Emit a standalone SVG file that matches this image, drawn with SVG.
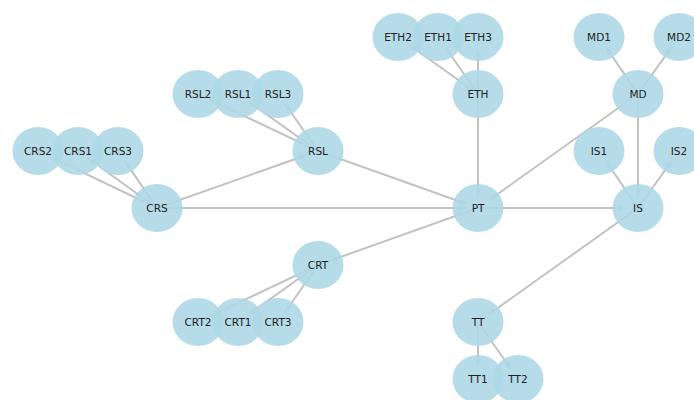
<svg xmlns="http://www.w3.org/2000/svg" width="694" height="400" viewBox="0 0 694 400">
<style>
.e{stroke:#c2c2c2;stroke-width:2;fill:none;marker-end:url(#ah)}
.n ellipse{fill:#add8e6;fill-opacity:0.9}
.n text{font-family:"DejaVu Sans",sans-serif;font-size:10.5px;fill:#222;text-anchor:middle;dominant-baseline:central}
</style>
<defs>
<marker id="ah" markerUnits="userSpaceOnUse" markerWidth="9" markerHeight="7" refX="8" refY="3" orient="auto">
<path d="M0,0 L8,3 L0,6 z" fill="#c2c2c2"/>
</marker>
</defs>
<rect width="694" height="400" fill="#ffffff"/>
<g id="connectors">
<line class="e" x1="478" y1="94" x2="407.8" y2="44"/>
<line class="e" x1="478" y1="94" x2="444.9" y2="46.8"/>
<line class="e" x1="478" y1="94" x2="478" y2="49"/>
<line class="e" x1="478" y1="94" x2="478" y2="196"/>
<line class="e" x1="638" y1="94" x2="605.8" y2="46.9"/>
<line class="e" x1="638" y1="94" x2="672" y2="46.7"/>
<line class="e" x1="638" y1="94" x2="638" y2="196"/>
<line class="e" x1="638" y1="94" x2="487.8" y2="201"/>
<line class="e" x1="478" y1="208" x2="626" y2="208"/>
<line class="e" x1="638" y1="208" x2="605.8" y2="160.9"/>
<line class="e" x1="638" y1="208" x2="672" y2="160.7"/>
<line class="e" x1="638" y1="208" x2="487.8" y2="315"/>
<line class="e" x1="478" y1="322" x2="478" y2="367"/>
<line class="e" x1="478" y1="322" x2="511.1" y2="369.2"/>
<line class="e" x1="318" y1="151" x2="208.8" y2="99.2"/>
<line class="e" x1="318" y1="151" x2="247.8" y2="101"/>
<line class="e" x1="318" y1="151" x2="284.9" y2="103.8"/>
<line class="e" x1="318" y1="151" x2="466.7" y2="204"/>
<line class="e" x1="157" y1="208" x2="306.7" y2="155"/>
<line class="e" x1="157" y1="208" x2="48.8" y2="156.2"/>
<line class="e" x1="157" y1="208" x2="87.7" y2="158"/>
<line class="e" x1="157" y1="208" x2="124.8" y2="160.9"/>
<line class="e" x1="157" y1="208" x2="466" y2="208"/>
<line class="e" x1="478" y1="208" x2="329.3" y2="261"/>
<line class="e" x1="318" y1="265" x2="208.8" y2="316.8"/>
<line class="e" x1="318" y1="265" x2="247.8" y2="315"/>
<line class="e" x1="318" y1="265" x2="284.9" y2="312.2"/>
</g>
<g id="ETH2" class="n"><ellipse cx="398" cy="37" rx="25.5" ry="24"/><text x="398" y="37">ETH2</text></g>
<g id="ETH1" class="n"><ellipse cx="438" cy="37" rx="25.5" ry="24"/><text x="438" y="37">ETH1</text></g>
<g id="ETH3" class="n"><ellipse cx="478" cy="37" rx="25.5" ry="24"/><text x="478" y="37">ETH3</text></g>
<g id="ETH" class="n"><ellipse cx="478" cy="94" rx="25.5" ry="24"/><text x="478" y="94">ETH</text></g>
<g id="MD1" class="n"><ellipse cx="599" cy="37" rx="25.5" ry="24"/><text x="599" y="37">MD1</text></g>
<g id="MD2" class="n"><ellipse cx="679" cy="37" rx="25.5" ry="24"/><text x="679" y="37">MD2</text></g>
<g id="MD" class="n"><ellipse cx="638" cy="94" rx="25.5" ry="24"/><text x="638" y="94">MD</text></g>
<g id="IS1" class="n"><ellipse cx="599" cy="151" rx="25.5" ry="24"/><text x="599" y="151">IS1</text></g>
<g id="IS2" class="n"><ellipse cx="679" cy="151" rx="25.5" ry="24"/><text x="679" y="151">IS2</text></g>
<g id="IS" class="n"><ellipse cx="638" cy="208" rx="25.5" ry="24"/><text x="638" y="208">IS</text></g>
<g id="RSL2" class="n"><ellipse cx="198" cy="94" rx="25.5" ry="24"/><text x="198" y="94">RSL2</text></g>
<g id="RSL1" class="n"><ellipse cx="238" cy="94" rx="25.5" ry="24"/><text x="238" y="94">RSL1</text></g>
<g id="RSL3" class="n"><ellipse cx="278" cy="94" rx="25.5" ry="24"/><text x="278" y="94">RSL3</text></g>
<g id="RSL" class="n"><ellipse cx="318" cy="151" rx="25.5" ry="24"/><text x="318" y="151">RSL</text></g>
<g id="CRS2" class="n"><ellipse cx="38" cy="151" rx="25.5" ry="24"/><text x="38" y="151">CRS2</text></g>
<g id="CRS1" class="n"><ellipse cx="78" cy="151" rx="25.5" ry="24"/><text x="78" y="151">CRS1</text></g>
<g id="CRS3" class="n"><ellipse cx="118" cy="151" rx="25.5" ry="24"/><text x="118" y="151">CRS3</text></g>
<g id="CRS" class="n"><ellipse cx="157" cy="208" rx="25.5" ry="24"/><text x="157" y="208">CRS</text></g>
<g id="PT" class="n"><ellipse cx="478" cy="208" rx="25.5" ry="24"/><text x="478" y="208">PT</text></g>
<g id="CRT" class="n"><ellipse cx="318" cy="265" rx="25.5" ry="24"/><text x="318" y="265">CRT</text></g>
<g id="CRT2" class="n"><ellipse cx="198" cy="322" rx="25.5" ry="24"/><text x="198" y="322">CRT2</text></g>
<g id="CRT1" class="n"><ellipse cx="238" cy="322" rx="25.5" ry="24"/><text x="238" y="322">CRT1</text></g>
<g id="CRT3" class="n"><ellipse cx="278" cy="322" rx="25.5" ry="24"/><text x="278" y="322">CRT3</text></g>
<g id="TT" class="n"><ellipse cx="478" cy="322" rx="25.5" ry="24"/><text x="478" y="322">TT</text></g>
<g id="TT1" class="n"><ellipse cx="478" cy="379" rx="25.5" ry="24"/><text x="478" y="379">TT1</text></g>
<g id="TT2" class="n"><ellipse cx="518" cy="379" rx="25.5" ry="24"/><text x="518" y="379">TT2</text></g>
</svg>
